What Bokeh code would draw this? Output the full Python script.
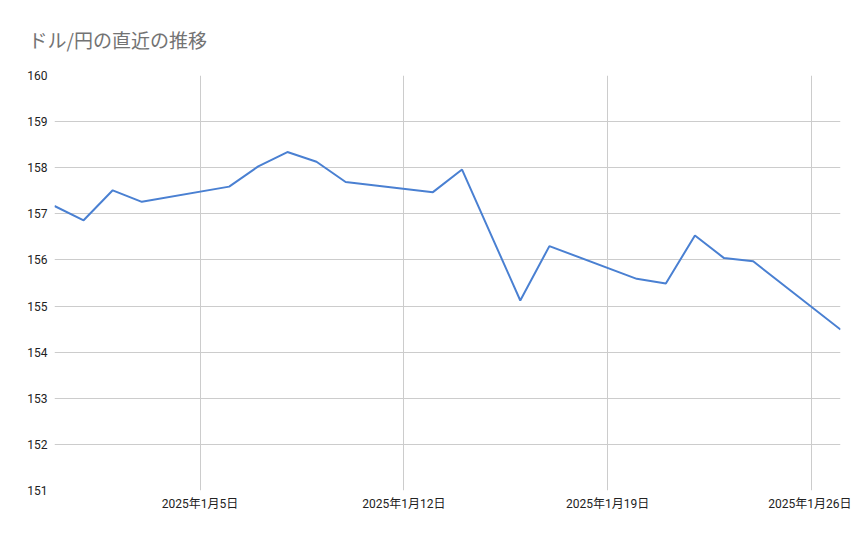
from datetime import datetime

from bokeh.embed import file_html
from bokeh.models import ColumnDataSource, FixedTicker, Range1d, Title
from bokeh.plotting import figure
from bokeh.resources import INLINE

# USD/JPY closing values (weekends skipped)
dates = [
    "2024-12-31", "2025-01-01", "2025-01-02", "2025-01-03",
    "2025-01-06", "2025-01-07", "2025-01-08", "2025-01-09", "2025-01-10",
    "2025-01-13", "2025-01-14", "2025-01-15", "2025-01-16", "2025-01-17",
    "2025-01-20", "2025-01-21", "2025-01-22", "2025-01-23", "2025-01-24",
    "2025-01-27",
]
rates = [
    157.17, 156.86, 157.51, 157.26,
    157.59, 158.03, 158.34, 158.13, 157.69,
    157.47, 157.96, 156.54, 155.12, 156.30,
    155.59, 155.49, 156.53, 156.04, 155.97,
    154.49,
]
tick_dates = ["2025-01-05", "2025-01-12", "2025-01-19", "2025-01-26"]
tick_labels = ["2025年1月5日", "2025年1月12日", "2025年1月19日", "2025年1月26日"]
y_ticks = list(range(151, 161))
title = "ドル/円の直近の推移"


def to_ms(s):
    return datetime.strptime(s, "%Y-%m-%d").timestamp() * 1000


x = [datetime.strptime(d, "%Y-%m-%d") for d in dates]
source = ColumnDataSource(data=dict(date=x, rate=rates))

p = figure(
    width=851,
    height=521,
    x_axis_type="datetime",
    x_range=Range1d(x[0], x[-1]),
    y_range=Range1d(y_ticks[0], y_ticks[-1]),
    output_backend="svg",
    toolbar_location=None,
    min_border_left=54,
    min_border_right=11,
    min_border_top=75,
    min_border_bottom=31,
)

p.title.text = title
p.title.text_font = "Noto Sans CJK JP"
p.title.text_font_size = "19px"
p.title.text_font_style = "normal"
p.title.text_color = "#737373"
p.title.align = "left"
p.title.offset = -26

# empty title between the frame and the real title, to lift it up
p.add_layout(Title(text=" ", text_font_size="5px"), "above")

p.outline_line_color = None

tick_ms = [to_ms(d) for d in tick_dates]
p.xaxis.ticker = FixedTicker(ticks=tick_ms)
p.xaxis.major_label_overrides = dict(zip(tick_ms, tick_labels))
p.yaxis.ticker = FixedTicker(ticks=y_ticks)

for ax in (p.xaxis, p.yaxis):
    ax.axis_line_color = None
    ax.major_tick_line_color = None
    ax.minor_tick_line_color = None
    ax.major_tick_out = 0
    ax.major_tick_in = 0
    ax.major_label_text_font = "Roboto, Noto Sans CJK JP"
    ax.major_label_text_font_size = "12px"
    ax.major_label_text_color = "#222222"
p.xaxis.major_label_standoff = 6
p.yaxis.major_label_standoff = 7

p.xgrid.grid_line_color = "#cccccc"
p.ygrid.grid_line_color = "#cccccc"

p.line(x="date", y="rate", source=source, line_color="#4a80d2", line_width=2)

open("out.html", "w").write(file_html(p, INLINE))
